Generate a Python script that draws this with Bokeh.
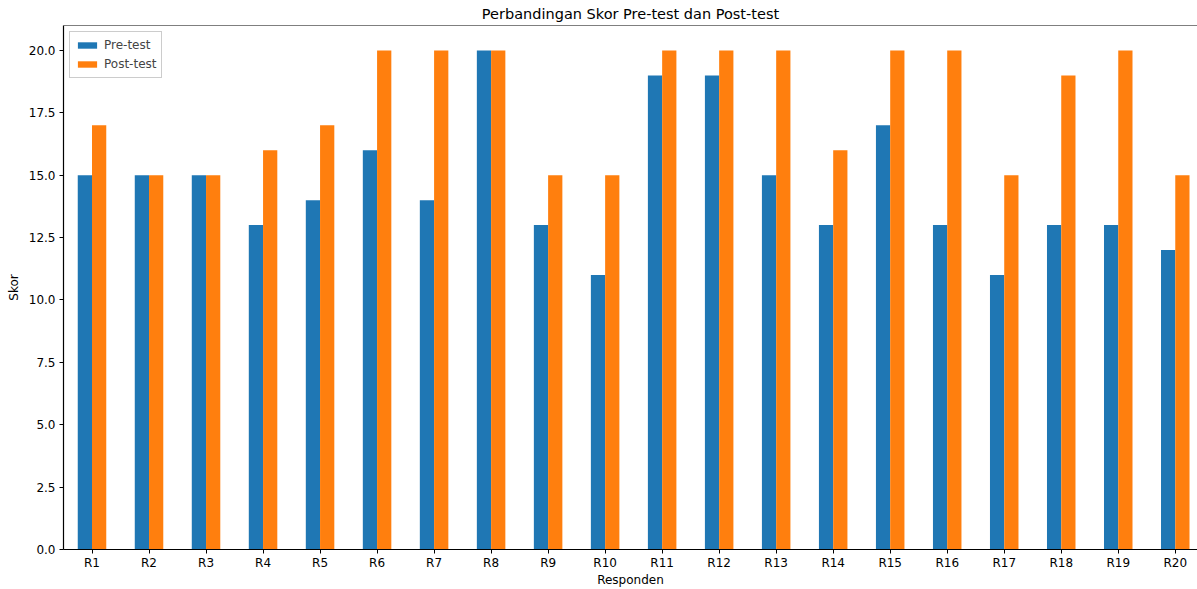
from bokeh.plotting import figure
from bokeh.models import FixedTicker, NumeralTickFormatter, ColumnDataSource, Range1d, Span
from bokeh.embed import file_html
from bokeh.resources import INLINE

categories = [f"R{i}" for i in range(1, 21)]
pre_test = [15, 15, 15, 13, 14, 16, 14, 20, 13, 11, 19, 19, 15, 13, 17, 13, 11, 13, 13, 12]
post_test = [17, 15, 15, 16, 17, 20, 20, 20, 15, 15, 20, 20, 20, 16, 20, 20, 15, 19, 20, 15]
y_ticks = [0, 2.5, 5, 7.5, 10, 12.5, 15, 17.5, 20]

idx = list(range(len(categories)))
bw = 0.25
src = ColumnDataSource(dict(
    pre_x=[i - bw / 2 for i in idx],
    post_x=[i + bw / 2 for i in idx],
    pre=pre_test,
    post=post_test,
))

FONT = "DejaVu Sans"
# the reference's plot area runs slightly past the right edge of the image
p = figure(width=1197, height=589, output_backend="svg", toolbar_location=None,
           x_range=Range1d(-0.5, 19.39), y_range=Range1d(0, 21),
           title="Perbandingan Skor Pre-test dan Post-test",
           min_border_left=63, min_border_right=0, min_border_top=24, min_border_bottom=36)

p.vbar(x="pre_x", top="pre", width=bw, bottom=0, source=src, fill_color="#1f77b4",
       line_color=None, legend_label="Pre-test")
p.vbar(x="post_x", top="post", width=bw, bottom=0, source=src, fill_color="#ff7f0e",
       line_color=None, legend_label="Post-test")

p.title.align = "center"
p.title.text_font = FONT
p.title.text_font_size = "14.5px"
p.title.text_font_style = "normal"
p.title.text_color = "black"
p.title.text_line_height = 1.0
p.title.standoff = 7

p.xgrid.visible = False
p.ygrid.visible = False
p.outline_line_color = None
p.background_fill_color = "white"
p.add_layout(Span(location=21, dimension="width", line_color="black", line_width=1.2))

p.xaxis.ticker = FixedTicker(ticks=idx)
p.xaxis.major_label_overrides = {i: c for i, c in zip(idx, categories)}
p.yaxis.ticker = FixedTicker(ticks=y_ticks)
p.yaxis.formatter = NumeralTickFormatter(format="0.0")
p.xaxis.axis_label = "Responden"
p.yaxis.axis_label = "Skor"

for ax in (p.xaxis, p.yaxis):
    ax.axis_line_color = "black"
    ax.axis_line_width = 1.2
    ax.major_tick_line_color = "black"
    ax.major_tick_out = 4
    ax.major_tick_in = 0
    ax.minor_tick_line_color = None
    ax.major_label_text_font = FONT
    ax.major_label_text_font_size = "12px"
    ax.major_label_text_color = "black"
    ax.major_label_text_line_height = 1.0
    ax.axis_label_text_font = FONT
    ax.axis_label_text_font_size = "12px"
    ax.axis_label_text_font_style = "normal"
    ax.axis_label_text_color = "black"
    ax.axis_label_text_line_height = 1.0
p.xaxis.major_label_standoff = 2
p.xaxis.axis_label_standoff = 0
p.yaxis.major_label_standoff = 4
p.yaxis.axis_label_standoff = 5

p.legend.location = "top_left"
p.legend.label_text_font = FONT
p.legend.label_text_font_size = "12px"
p.legend.border_line_color = "#cccccc"
p.legend.border_line_alpha = 1
p.legend.background_fill_alpha = 0.8
p.legend.glyph_width = 24
p.legend.glyph_height = 8
p.legend.spacing = 3
p.legend.padding = 5
p.legend.margin = 6
p.legend.label_height = 16

open("out.html", "w").write(file_html(p, INLINE))
